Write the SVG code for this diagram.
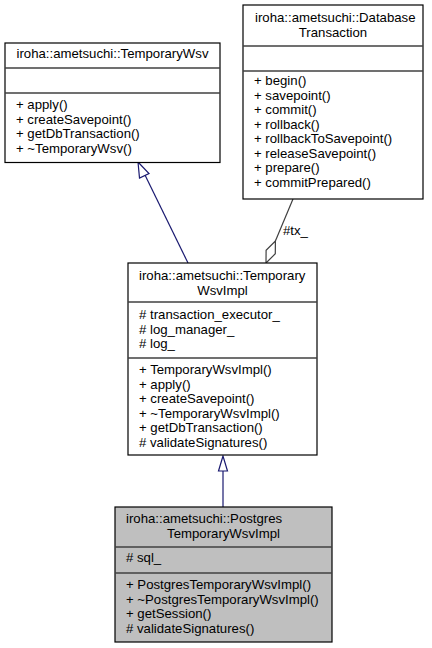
<svg xmlns="http://www.w3.org/2000/svg" width="432" height="648" viewBox="0 0 432 648">
<style>
text{font-family:"Liberation Sans",Arial,Helvetica,sans-serif;font-size:13.2px;fill:#000}
.m{text-anchor:middle}
.box{fill:#fff;stroke:#000;stroke-width:1.2}
.grey{fill:#bfbfbf}
.sep{stroke:#404040;stroke-width:1.5}
.inh{stroke:#191970;stroke-width:1.2;fill:none}
.tri{stroke:#191970;stroke-width:1.2;fill:#fff}
.agg{stroke:#404040;stroke-width:1.2;fill:none}
</style>
<rect width="432" height="648" fill="#fff"/>
<g id="connectors">
<path class="inh" d="M188,263 L144,173"/>
<polygon class="tri" points="138,162 139.5,178 149,173.5"/>
<path class="inh" d="M223,507 L223,471"/>
<polygon class="tri" points="223,456 218.5,471 227.5,471"/>
<path class="agg" d="M293,199 L275.4,241"/>
<polygon class="agg" points="266,263 266.1,250.2 275.4,241 275.3,253.8" fill="#fff"/>
<text x="283" y="235">#tx_</text>
</g>
<g id="TemporaryWsv">
<rect class="box" x="5" y="43" width="215" height="119.5"/>
<line class="sep" x1="5" y1="68" x2="220" y2="68"/>
<line class="sep" x1="5" y1="93" x2="220" y2="93"/>
<text class="m" x="112.5" y="58">iroha::ametsuchi::TemporaryWsv</text>
<text x="16" y="109">+ apply()</text>
<text x="16" y="123.5">+ createSavepoint()</text>
<text x="16" y="138">+ getDbTransaction()</text>
<text x="16" y="152.5">+ ~TemporaryWsv()</text>
</g>
<g id="DatabaseTransaction">
<rect class="box" x="243" y="5" width="180" height="194"/>
<line class="sep" x1="243" y1="46" x2="423" y2="46"/>
<line class="sep" x1="243" y1="71" x2="423" y2="71"/>
<text x="255" y="22">iroha::ametsuchi::Database</text>
<text class="m" x="333" y="36.5">Transaction</text>
<text x="254" y="85">+ begin()</text>
<text x="254" y="99.5">+ savepoint()</text>
<text x="254" y="114">+ commit()</text>
<text x="254" y="128.5">+ rollback()</text>
<text x="254" y="143">+ rollbackToSavepoint()</text>
<text x="254" y="157.5">+ releaseSavepoint()</text>
<text x="254" y="172">+ prepare()</text>
<text x="254" y="186.5">+ commitPrepared()</text>
</g>
<g id="TemporaryWsvImpl">
<rect class="box" x="128" y="263" width="189" height="192"/>
<line class="sep" x1="128" y1="302" x2="317" y2="302"/>
<line class="sep" x1="128" y1="358" x2="317" y2="358"/>
<text x="139" y="280">iroha::ametsuchi::Temporary</text>
<text class="m" x="222.5" y="294.5">WsvImpl</text>
<text x="139" y="319"># transaction_executor_</text>
<text x="139" y="333.5"># log_manager_</text>
<text x="139" y="348"># log_</text>
<text x="139" y="374">+ TemporaryWsvImpl()</text>
<text x="139" y="388.5">+ apply()</text>
<text x="139" y="403">+ createSavepoint()</text>
<text x="139" y="417.5">+ ~TemporaryWsvImpl()</text>
<text x="139" y="432">+ getDbTransaction()</text>
<text x="139" y="446.5"># validateSignatures()</text>
</g>
<g id="PostgresTemporaryWsvImpl">
<rect class="box grey" x="115" y="507" width="217" height="135"/>
<line class="sep" x1="115" y1="547" x2="332" y2="547"/>
<line class="sep" x1="115" y1="573" x2="332" y2="573"/>
<text x="126" y="523">iroha::ametsuchi::Postgres</text>
<text class="m" x="223.5" y="537.5">TemporaryWsvImpl</text>
<text x="126" y="562"># sql_</text>
<text x="126" y="589">+ PostgresTemporaryWsvImpl()</text>
<text x="126" y="603.5">+ ~PostgresTemporaryWsvImpl()</text>
<text x="126" y="618">+ getSession()</text>
<text x="126" y="632.5"># validateSignatures()</text>
</g>
</svg>
